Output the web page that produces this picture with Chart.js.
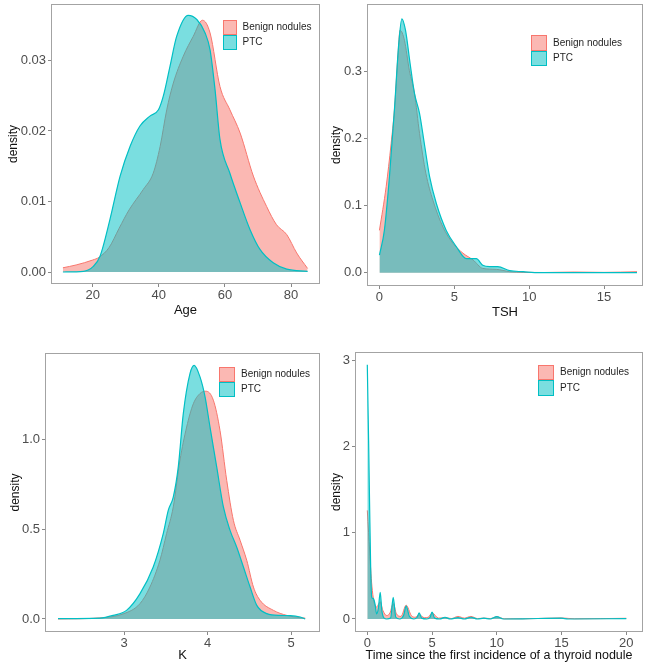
<!DOCTYPE html>
<html>
<head>
<meta charset="utf-8">
<script src="https://cdn.jsdelivr.net/npm/chart.js@4.4.0/dist/chart.umd.min.js"></script>
<style>
  html, body { margin: 0; padding: 0; background: #fff; }
  #wrap { position: relative; width: 646px; height: 667px; overflow: hidden; font-family: "Liberation Sans", Arial, sans-serif; }
  canvas { position: absolute; }
  .leg { position: absolute; font-size: 10px; color: #1f1f1f; }
  .leg .key { position: absolute; left: 0; box-sizing: border-box; border: 1px solid; }
  .leg .lab { position: absolute; line-height: 12px; white-space: nowrap; }
</style>
</head>
<body>
<div id="wrap">
  <canvas id="c1" width="323" height="320" style="left:0;top:0"></canvas>
  <canvas id="c2" width="323" height="320" style="left:323px;top:0"></canvas>
  <canvas id="c3" width="323" height="347" style="left:0;top:320px"></canvas>
  <canvas id="c4" width="323" height="347" style="left:323px;top:320px"></canvas>
</div>
<script>
  // series names
  const seriesNames = ["Benign nodules", "PTC"];

  // Age
  const ageBenignX = [11, 15, 20, 22, 25, 28, 31, 35.3, 38.3, 40.4, 42.4, 44.4, 47.4, 50.4, 53.2, 55.5, 58.5, 61.5, 64.6, 68.6, 72.6, 75.6, 78.7, 81.7, 85];
  const ageBenignY = [0.0006, 0.001, 0.0017, 0.0021, 0.0035, 0.0062, 0.0088, 0.0117, 0.014, 0.0178, 0.023, 0.0268, 0.0306, 0.0334, 0.0357, 0.0339, 0.0263, 0.023, 0.0197, 0.0136, 0.0093, 0.0067, 0.0053, 0.0027, 0.0005];
  const agePtcX = [11, 17.2, 20.2, 22.2, 25.2, 28.3, 31.3, 34.3, 37.3, 39.9, 41.4, 43.4, 45.4, 48.9, 51.5, 54, 55.5, 57, 58.5, 61.5, 64.6, 67.6, 70.6, 74.6, 78.7, 85];
  const agePtcY = [0, 0.0001, 0.0008, 0.0022, 0.0074, 0.0136, 0.0178, 0.0207, 0.0221, 0.023, 0.025, 0.0292, 0.0334, 0.0364, 0.0358, 0.0339, 0.0315, 0.0259, 0.0188, 0.014, 0.0098, 0.006, 0.0032, 0.0013, 0.0004, 0.0001];

  // TSH
  const tshBenignX = [0, 0.45, 0.78, 1.0, 1.23, 1.38, 1.67, 2.0, 2.34, 2.68, 3.1, 3.57, 4.24, 4.9, 5.58, 6.25, 6.9, 7.8, 8.7, 9.6, 11, 13, 15, 17.2];
  const tshBenignY = [0.063, 0.128, 0.192, 0.242, 0.321, 0.361, 0.346, 0.301, 0.267, 0.207, 0.148, 0.108, 0.068, 0.044, 0.029, 0.019, 0.0064, 0.005, 0.0015, 0.0005, 0.0003, 0.001, 0.0005, 0.0015];
  const tshPtcX = [0, 0.33, 0.67, 1.0, 1.29, 1.5, 1.74, 2.05, 2.34, 2.68, 3.0, 3.35, 3.8, 4.46, 5.13, 5.8, 6.47, 6.9, 7.37, 7.9, 8.7, 9.6, 10.7, 13, 15, 17.2];
  const tshPtcY = [0.026, 0.063, 0.143, 0.242, 0.341, 0.378, 0.361, 0.311, 0.267, 0.237, 0.192, 0.143, 0.103, 0.063, 0.039, 0.021, 0.021, 0.011, 0.009, 0.009, 0.003, 0.0015, 0, 0, 0, 0];

  // K
  const kBenignX = [2.21, 2.71, 3.0, 3.19, 3.31, 3.43, 3.51, 3.59, 3.67, 3.75, 3.83, 3.91, 3.98, 4.07, 4.15, 4.23, 4.31, 4.39, 4.47, 4.55, 4.63, 4.79, 4.95, 5.11, 5.17];
  const kBenignY = [0, 0.006, 0.03, 0.085, 0.178, 0.327, 0.476, 0.625, 0.885, 1.07, 1.2, 1.257, 1.27, 1.22, 1.05, 0.773, 0.55, 0.439, 0.327, 0.178, 0.104, 0.048, 0.02, 0.007, 0.005];
  const kPtcX = [2.21, 2.71, 2.87, 3.03, 3.19, 3.35, 3.47, 3.53, 3.59, 3.65, 3.71, 3.79, 3.84, 3.91, 3.97, 4.03, 4.11, 4.19, 4.27, 4.35, 4.43, 4.51, 4.59, 4.71, 4.87, 4.99, 5.11, 5.17];
  const kPtcY = [0.002, 0.005, 0.02, 0.048, 0.14, 0.29, 0.476, 0.606, 0.68, 0.848, 1.145, 1.368, 1.414, 1.35, 1.24, 1.07, 0.848, 0.625, 0.494, 0.4, 0.29, 0.178, 0.076, 0.03, 0.02, 0.019, 0.011, 0];

  // Time since first incidence
  const timeBenignX = [0, 0.1, 0.18, 0.28, 0.39, 0.54, 0.72, 0.9, 1.0, 1.2, 1.5, 1.75, 2.0, 2.25, 2.6, 3.0, 3.4, 3.7, 4.0, 4.4, 4.7, 5.0, 5.5, 6.0, 6.5, 7.0, 7.5, 8.0, 8.5, 9.0, 9.5, 10.0, 10.6, 12, 15, 16, 20];
  const timeBenignY = [1.26, 1.0, 0.8, 0.53, 0.33, 0.18, 0.14, 0.18, 0.2, 0.1, 0.04, 0.07, 0.18, 0.06, 0.03, 0.16, 0.04, 0.02, 0.05, 0.015, 0.02, 0.07, 0.01, 0.015, 0.005, 0.03, 0.01, 0.03, 0.005, 0.01, 0.005, 0.025, 0.002, 0.002, 0.012, 0.002, 0.008];
  const timePtcX = [0, 0.05, 0.1, 0.18, 0.26, 0.33, 0.4, 0.5, 0.6, 0.72, 0.85, 1.0, 1.12, 1.3, 1.5, 1.8, 2.0, 2.2, 2.5, 2.8, 3.0, 3.25, 3.6, 3.85, 4.0, 4.2, 4.6, 4.85, 5.0, 5.2, 5.6, 6.0, 6.4, 7.0, 7.5, 8.0, 8.5, 9.0, 9.5, 10.0, 10.5, 12, 15, 15.5, 20];
  const timePtcY = [2.95, 2.5, 2.07, 1.3, 0.6, 0.26, 0.24, 0.23, 0.17, 0.06, 0.12, 0.31, 0.1, 0.01, 0, 0.01, 0.25, 0.02, 0, 0.04, 0.15, 0.03, 0, 0.02, 0.07, 0.01, 0, 0.02, 0.08, 0.01, 0, 0.02, 0, 0.015, 0, 0.02, 0, 0.01, 0, 0.027, 0, 0.002, 0.01, 0, 0.005];

  // tick values and labels
  const ageXTicks = [20, 40, 60, 80];
  const ageYTicks = [0, 0.01, 0.02, 0.03];
  const ageYLabels = ["0.00", "0.01", "0.02", "0.03"];
  const tshXTicks = [0, 5, 10, 15];
  const tshYTicks = [0, 0.1, 0.2, 0.3];
  const tshYLabels = ["0.0", "0.1", "0.2", "0.3"];
  const kXTicks = [3, 4, 5];
  const kYTicks = [0, 0.5, 1.0];
  const kYLabels = ["0.0", "0.5", "1.0"];
  const timeXTicks = [0, 5, 10, 15, 20];
  const timeYTicks = [0, 1, 2, 3];
  const timeYLabels = ["0", "1", "2", "3"];

  const RED = "#F8766D", CYAN = "#00BFC4";
  const RED_FILL = "rgba(248,118,109,0.52)", CYAN_FILL = "rgba(0,191,196,0.52)";

  function pts(xs, ys) {
    return xs.map((x, i) => ({ x: x, y: ys[i] }));
  }

  const framePlugin = {
    id: "frame",
    afterDraw(chart) {
      const a = chart.chartArea, ctx = chart.ctx;
      ctx.save();
      ctx.strokeStyle = "#a3a3a3";
      ctx.lineWidth = 1;
      ctx.strokeRect(Math.round(a.left) + 0.5, Math.round(a.top) + 0.5,
        Math.round(a.right - a.left) - 1, Math.round(a.bottom - a.top) - 1);
      ctx.restore();
    },
  };

  function makePanel(p) {
    new Chart(document.getElementById(p.id), {
      type: "line",
      data: {
        datasets: [
          {
            label: seriesNames[0],
            data: pts(p.bx, p.by),
            borderColor: RED,
            backgroundColor: RED_FILL,
            borderWidth: 1,
            fill: "origin",
            pointRadius: 0,
            cubicInterpolationMode: "monotone",
            order: 2,
          },
          {
            label: seriesNames[1],
            data: pts(p.px, p.py),
            borderColor: CYAN,
            backgroundColor: CYAN_FILL,
            borderWidth: 1.2,
            fill: "origin",
            pointRadius: 0,
            cubicInterpolationMode: "monotone",
            order: 1,
          },
        ],
      },
      options: {
        responsive: false,
        animation: false,
        layout: { padding: { top: p.top, right: 3, left: 0, bottom: 0 } },
        plugins: { legend: { display: false }, tooltip: { enabled: false } },
        scales: {
          x: {
            type: "linear",
            min: p.xmin,
            max: p.xmax,
            afterBuildTicks: (s) => { s.ticks = p.xt.map((v) => ({ value: v })); },
            afterFit: (s) => { s.height = p.xh; s.paddingLeft = 0; s.paddingRight = 0; },
            ticks: { color: "#4d4d4d", font: { size: 13, family: "Liberation Sans" }, padding: 1, maxRotation: 0, callback: (v) => String(v) },
            grid: { drawOnChartArea: false, tickLength: 3, color: "#888" },
            border: { display: false },
            title: { display: true, text: p.xtitle, color: "#111", font: { size: p.xts, family: "Liberation Sans" }, padding: { top: 0, bottom: p.xtp } },
          },
          y: {
            min: p.ymin,
            max: p.ymax,
            afterBuildTicks: (s) => { s.ticks = p.yt.map((v) => ({ value: v })); },
            afterFit: (s) => { s.width = p.yw; s.paddingTop = 0; s.paddingBottom = 0; },
            ticks: { color: "#4d4d4d", font: { size: 13, family: "Liberation Sans" }, padding: 2, callback: (v, i) => p.yl[i] },
            grid: { drawOnChartArea: false, tickLength: 3, color: "#888" },
            border: { display: false },
            title: { display: true, text: "density", color: "#111", font: { size: 12, family: "Liberation Sans" }, padding: { top: p.ytp, bottom: 0 } },
          },
        },
      },
      plugins: [framePlugin],
    });
  }

  makePanel({ id: "c1", bx: ageBenignX, by: ageBenignY, px: agePtcX, py: agePtcY,
    xmin: 7.4, xmax: 88.75, ymin: -0.0017, ymax: 0.038, xt: ageXTicks, yt: ageYTicks, yl: ageYLabels,
    top: 4, yw: 51, xh: 36, xtitle: "Age", xts: 13, xtp: 2, ytp: 6 });
  makePanel({ id: "c2", bx: tshBenignX, by: tshBenignY, px: tshPtcX, py: tshPtcY,
    xmin: -0.83, xmax: 17.6, ymin: -0.0198, ymax: 0.40, xt: tshXTicks, yt: tshYTicks, yl: tshYLabels,
    top: 4, yw: 44, xh: 34, xtitle: "TSH", xts: 13, xtp: 0, ytp: 6 });
  makePanel({ id: "c3", bx: kBenignX, by: kBenignY, px: kPtcX, py: kPtcY,
    xmin: 2.054, xmax: 5.347, ymin: -0.0725, ymax: 1.483, xt: kXTicks, yt: kYTicks, yl: kYLabels,
    top: 33, yw: 45, xh: 35, xtitle: "K", xts: 13, xtp: 4, ytp: 8 });
  makePanel({ id: "c4", bx: timeBenignX, by: timeBenignY, px: timePtcX, py: timePtcY,
    xmin: -0.95, xmax: 21.29, ymin: -0.151, ymax: 3.097, xt: timeXTicks, yt: timeYTicks, yl: timeYLabels,
    top: 32, yw: 32, xh: 35, xtitle: "Time since the first incidence of a thyroid nodule", xts: 12.5, xtp: 4, ytp: 6 });

  // legends (inside each panel, top right)
  const legendSpots = [
    { left: 222.5, top: 19.5, w: 14, h: 15 },
    { left: 531, top: 35, w: 16, h: 15.5 },
    { left: 219, top: 366.5, w: 16, h: 15 },
    { left: 538, top: 364.5, w: 16, h: 15.5 },
  ];
  const wrap = document.getElementById("wrap");
  legendSpots.forEach((s) => {
    const leg = document.createElement("div");
    leg.className = "leg";
    leg.style.left = s.left + "px";
    leg.style.top = s.top + "px";
    [[RED, RED_FILL], [CYAN, CYAN_FILL]].forEach((c, i) => {
      const key = document.createElement("div");
      key.className = "key";
      key.style.top = i * s.h + "px";
      key.style.width = s.w + "px";
      key.style.height = s.h + "px";
      key.style.borderColor = c[0];
      key.style.background = c[1];
      leg.appendChild(key);
      const lab = document.createElement("div");
      lab.className = "lab";
      lab.textContent = seriesNames[i];
      lab.style.left = s.w + 6 + "px";
      lab.style.top = i * s.h + (s.h - 12) / 2 + "px";
      leg.appendChild(lab);
    });
    wrap.appendChild(leg);
  });
</script>
</body>
</html>
